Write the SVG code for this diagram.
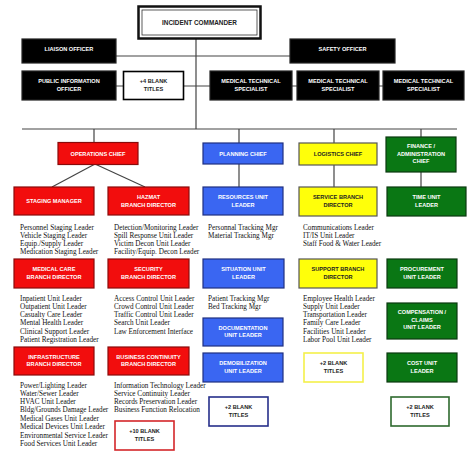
<svg xmlns="http://www.w3.org/2000/svg" width="474" height="457" viewBox="0 0 474 457">
<style>
.bx{stroke-width:1.2}
.blk{fill:#000;stroke:#222}
.red{fill:#f20d0d;stroke:#8a0a0a}
.blu{fill:#3a66f2;stroke:#1f2f80}
.yel{fill:#ffff0a;stroke:#555}
.grn{fill:#0a7714;stroke:#0b3a10}
.wr{fill:#fff;stroke:#d4262a;stroke-width:1.6}
.wb{fill:#fff;stroke:#262f8a;stroke-width:1.6}
.wy{fill:#fff;stroke:#f4f04a;stroke-width:1.6}
.wg{fill:#fff;stroke:#2e6a2e;stroke-width:1.6}
.wk{fill:#fff;stroke:#000;stroke-width:1.6}
text.l{font-family:"Liberation Sans",Arial,sans-serif;font-weight:bold;font-size:5.6px;text-anchor:middle;fill:#fff}
text.d{fill:#222}
text.s{font-family:"Liberation Serif","Times New Roman",serif;font-size:7.2px;fill:#111}
#conn line{stroke:#444;stroke-width:1.2}
</style>
<rect width="474" height="457" fill="#fff"/>
<g id="conn">
<line x1="196" y1="39" x2="196" y2="129"/>
<line x1="116" y1="56" x2="290" y2="56"/>
<line x1="116" y1="86" x2="383" y2="86"/>
<line x1="22" y1="129" x2="457" y2="129"/>
<line x1="94" y1="129" x2="94" y2="142"/>
<line x1="239" y1="129" x2="239" y2="143"/>
<line x1="334" y1="129" x2="334" y2="143"/>
<line x1="421" y1="129" x2="421" y2="137"/>
<line x1="95" y1="164" x2="52" y2="187"/>
<line x1="95" y1="164" x2="145" y2="187"/>
<line x1="239" y1="164" x2="239" y2="187"/>
<line x1="334" y1="165" x2="334" y2="187"/>
<line x1="421" y1="172" x2="421" y2="187"/>
</g>
<g id="incident-commander">
<rect x="138.5" y="6.5" width="122" height="32" fill="#fff" stroke="#111" stroke-width="2.5"/>
<rect x="142" y="10" width="115" height="25" fill="none" stroke="#333" stroke-width="0.8"/>
<text class="l d" x="199.5" y="24.5" style="font-size:6.4px">INCIDENT COMMANDER</text>
</g>
<g id="liaison"><rect class="bx blk" x="22" y="39" width="94" height="24"/><text class="l" x="69" y="51">LIAISON OFFICER</text></g>
<g id="safety"><rect class="bx blk" x="290" y="39" width="105" height="24"/><text class="l" x="342.5" y="51">SAFETY OFFICER</text></g>
<g id="pio"><rect class="bx blk" x="22" y="71" width="94" height="29"/><text class="l" x="69" y="83">PUBLIC INFORMATION</text><text class="l" x="69" y="91">OFFICER</text></g>
<g id="blank4"><rect class="wk" x="123.5" y="71.5" width="60" height="28"/><text class="l d" x="153.5" y="83">+4 BLANK</text><text class="l d" x="153.5" y="91">TITLES</text></g>
<g id="mts1"><rect class="bx blk" x="210" y="71" width="82" height="29"/><text class="l" x="251" y="83">MEDICAL TECHNICAL</text><text class="l" x="251" y="91">SPECIALIST</text></g>
<g id="mts2"><rect class="bx blk" x="297" y="71" width="82" height="29"/><text class="l" x="338" y="83">MEDICAL TECHNICAL</text><text class="l" x="338" y="91">SPECIALIST</text></g>
<g id="mts3"><rect class="bx blk" x="383" y="71" width="81" height="29"/><text class="l" x="423.5" y="83">MEDICAL TECHNICAL</text><text class="l" x="423.5" y="91">SPECIALIST</text></g>

<g id="ops"><rect class="bx red" x="58" y="142.5" width="80" height="22"/><text class="l" x="98" y="155.5">OPERATIONS CHIEF</text></g>
<g id="planning"><rect class="bx blu" x="203" y="143" width="80" height="21"/><text class="l" x="243" y="155.5">PLANNING CHIEF</text></g>
<g id="logistics"><rect class="bx yel" x="299" y="143" width="78" height="22"/><text class="l d" x="338" y="156">LOGISTICS CHIEF</text></g>
<g id="finance"><rect class="bx grn" x="386" y="137" width="70" height="35"/><text class="l" x="421" y="148">FINANCE /</text><text class="l" x="421" y="155.5">ADMINISTRATION</text><text class="l" x="421" y="163">CHIEF</text></g>

<g id="staging"><rect class="bx red" x="14" y="187" width="80" height="28"/><text class="l" x="54" y="203">STAGING MANAGER</text></g>
<g id="hazmat"><rect class="bx red" x="108" y="187" width="81" height="28"/><text class="l" x="148.5" y="199">HAZMAT</text><text class="l" x="148.5" y="206.5">BRANCH DIRECTOR</text></g>
<g id="resources"><rect class="bx blu" x="203" y="187" width="80" height="28"/><text class="l" x="243" y="199">RESOURCES UNIT</text><text class="l" x="243" y="206.5">LEADER</text></g>
<g id="service"><rect class="bx yel" x="299" y="187" width="78" height="29"/><text class="l d" x="338" y="199">SERVICE BRANCH</text><text class="l d" x="338" y="206.5">DIRECTOR</text></g>
<g id="time"><rect class="bx grn" x="387" y="187" width="79" height="29"/><text class="l" x="426.5" y="199">TIME UNIT</text><text class="l" x="426.5" y="206.5">LEADER</text></g>

<g id="staging-list"><text class="s" x="20" y="229.5">Personnel Staging Leader</text><text class="s" x="20" y="237.5">Vehicle Staging Leader</text><text class="s" x="20" y="245.5">Equip./Supply Leader</text><text class="s" x="20" y="253.5">Medication Staging Leader</text></g>
<g id="hazmat-list"><text class="s" x="114" y="229.5">Detection/Monitoring Leader</text><text class="s" x="114" y="237.5">Spill Response Unit Leader</text><text class="s" x="114" y="245.5">Victim Decon Unit Leader</text><text class="s" x="114" y="253.5">Facility/Equip. Decon Leader</text></g>
<g id="resources-list"><text class="s" x="208" y="229.5">Personnal Tracking Mgr</text><text class="s" x="208" y="237.5">Material Tracking Mgr</text></g>
<g id="service-list"><text class="s" x="303" y="229.5">Communications Leader</text><text class="s" x="303" y="237.5">IT/IS Unit Leader</text><text class="s" x="303" y="245.5">Staff Food &amp; Water Leader</text></g>

<g id="medcare"><rect class="bx red" x="14" y="259" width="80" height="29"/><text class="l" x="54" y="271">MEDICAL CARE</text><text class="l" x="54" y="278.5">BRANCH DIRECTOR</text></g>
<g id="security"><rect class="bx red" x="108" y="259" width="81" height="29"/><text class="l" x="148.5" y="271">SECURITY</text><text class="l" x="148.5" y="278.5">BRANCH DIRECTOR</text></g>
<g id="situation"><rect class="bx blu" x="203" y="259" width="81" height="29"/><text class="l" x="243.5" y="271">SITUATION UNIT</text><text class="l" x="243.5" y="278.5">LEADER</text></g>
<g id="support"><rect class="bx yel" x="299" y="259" width="78" height="29"/><text class="l d" x="338" y="271">SUPPORT BRANCH</text><text class="l d" x="338" y="278.5">DIRECTOR</text></g>
<g id="procurement"><rect class="bx grn" x="387" y="259" width="70" height="29"/><text class="l" x="422" y="271">PROCUREMENT</text><text class="l" x="422" y="278.5">UNIT LEADER</text></g>

<g id="medcare-list"><text class="s" x="20" y="300.5">Inpatient Unit Leader</text><text class="s" x="20" y="308.8">Outpatient Unit Leader</text><text class="s" x="20" y="317">Casualty Care Leader</text><text class="s" x="20" y="325.3">Mental Health Leader</text><text class="s" x="20" y="333.6">Clinical Support Leader</text><text class="s" x="20" y="341.8">Patient Registration Leader</text></g>
<g id="security-list"><text class="s" x="114" y="300.5">Access Control Unit Leader</text><text class="s" x="114" y="308.8">Crowd Control Unit Leader</text><text class="s" x="114" y="317">Traffic Control Unit Leader</text><text class="s" x="114" y="325.3">Search Unit Leader</text><text class="s" x="114" y="333.6">Law Enforcement Interface</text></g>
<g id="situation-list"><text class="s" x="208" y="300.5">Patient Tracking Mgr</text><text class="s" x="208" y="308.8">Bed Tracking Mgr</text></g>
<g id="support-list"><text class="s" x="303" y="300.5">Employee Health Leader</text><text class="s" x="303" y="308.8">Supply Unit Leader</text><text class="s" x="303" y="317">Transportation Leader</text><text class="s" x="303" y="325.3">Family Care Leader</text><text class="s" x="303" y="333.6">Facilities Unit Leader</text><text class="s" x="303" y="341.8">Labor Pool Unit Leader</text></g>

<g id="documentation"><rect class="bx blu" x="203" y="318" width="80" height="28"/><text class="l" x="243" y="329.5">DOCUMENTATION</text><text class="l" x="243" y="337">UNIT LEADER</text></g>
<g id="compensation"><rect class="bx grn" x="387" y="303" width="70" height="36"/><text class="l" x="422" y="314">COMPENSATION /</text><text class="l" x="422" y="321.5">CLAIMS</text><text class="l" x="422" y="329">UNIT LEADER</text></g>

<g id="infrastructure"><rect class="bx red" x="14" y="347" width="80" height="28"/><text class="l" x="54" y="358.5">INFRASTRUCTURE</text><text class="l" x="54" y="366">BRANCH DIRECTOR</text></g>
<g id="business"><rect class="bx red" x="108" y="347" width="81" height="28"/><text class="l" x="148.5" y="358.5">BUSINESS CONTINUITY</text><text class="l" x="148.5" y="366">BRANCH DIRECTOR</text></g>
<g id="demobilization"><rect class="bx blu" x="203" y="353" width="80" height="29"/><text class="l" x="243" y="365">DEMOBILIZATION</text><text class="l" x="243" y="372.5">UNIT LEADER</text></g>
<g id="blank-yellow"><rect class="wy" x="304" y="353" width="59" height="29"/><text class="l d" x="333.5" y="365">+2 BLANK</text><text class="l d" x="333.5" y="372.5">TITLES</text></g>
<g id="cost"><rect class="bx grn" x="387" y="353" width="70" height="29"/><text class="l" x="422" y="365">COST UNIT</text><text class="l" x="422" y="372.5">LEADER</text></g>

<g id="infrastructure-list"><text class="s" x="20" y="387.5">Power/Lighting Leader</text><text class="s" x="20" y="395.8">Water/Sewer Leader</text><text class="s" x="20" y="404.1">HVAC Unit Leader</text><text class="s" x="20" y="412.4">Bldg/Grounds Damage Leader</text><text class="s" x="20" y="420.7">Medical Gases Unit Leader</text><text class="s" x="20" y="429">Medical Devices Unit Leader</text><text class="s" x="20" y="437.8">Environmental Service Leader</text><text class="s" x="20" y="446.1">Food Services Unit Leader</text></g>
<g id="business-list"><text class="s" x="114" y="387.5">Information Technology Leader</text><text class="s" x="114" y="395.8">Service Continuity Leader</text><text class="s" x="114" y="404.1">Records Preservation Leader</text><text class="s" x="114" y="412.4">Business Function Relocation</text></g>

<g id="blank-blue"><rect class="wb" x="209" y="397" width="59" height="29"/><text class="l d" x="238.5" y="409">+2 BLANK</text><text class="l d" x="238.5" y="416.5">TITLES</text></g>
<g id="blank-green"><rect class="wg" x="391" y="397" width="58" height="29"/><text class="l d" x="420" y="409">+2 BLANK</text><text class="l d" x="420" y="416.5">TITLES</text></g>
<g id="blank-red"><rect class="wr" x="115" y="421" width="59" height="29"/><text class="l d" x="144.5" y="433">+10 BLANK</text><text class="l d" x="144.5" y="440.5">TITLES</text></g>
</svg>
